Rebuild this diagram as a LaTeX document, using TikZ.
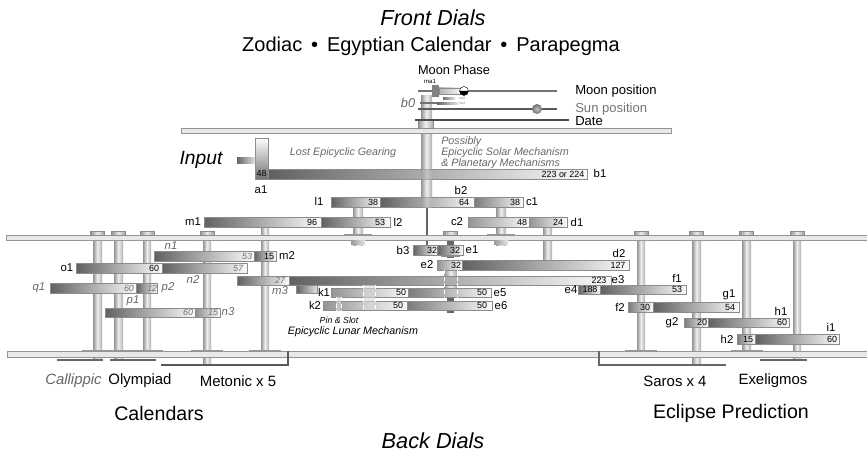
\documentclass[tikz,border=0pt]{standalone}
\usepackage{fontspec}
\setmainfont{Liberation Sans}
\newcommand{\gearbar}[8][62]{%
  \shade[left color=black!#1, right color=black!2] (#3,#5) rectangle (#4,#6);
  \draw[black!45, line width=0.4pt] (#3,#5) rectangle (#4,#6);
  \node[num] (#2) at (#7,{(#5+#6)/2}) {#8};}
\newcommand{\axle}[4]{%
  \shade[left color=black!42, right color=black!32, middle color=black!6] (#1,#3) rectangle (#2,#4);}
\newcommand{\stud}[2]{%
  \shade[left color=black!42, right color=black!38, middle color=black!8] ({#1-7},#2) rectangle ({#1+7},{#2+4});
  \draw[black!45, line width=0.3pt] ({#1-7},#2) rectangle ({#1+7},{#2+4});
  \fill[black!40] ({#1-11},{#2+9}) rectangle ({#1+11},{#2+10});}
\newcommand{\foot}[1]{%
  \fill[black!40] ({#1-16},350.2) rectangle ({#1+16},351.2);}
\tikzset{
  num/.style={font=\fontsize{6.7}{7}\selectfont, text=black, inner sep=0pt},
  numit/.style={font=\fontsize{6.7}{7}\selectfont\itshape, text=black!55, inner sep=0pt},
  lbl/.style={font=\fontsize{8.5}{10}\selectfont, inner sep=0pt},
  lblit/.style={font=\fontsize{8.5}{10}\selectfont\itshape, text=black!60, inner sep=0pt},
  dial/.style={font=\fontsize{11.2}{12}\selectfont, inner sep=0pt},
  note/.style={font=\fontsize{8.05}{8.25}\selectfont\itshape, text=black!60, inner sep=0pt},
  plate/.style={fill=black!9, draw=black!42, line width=0.5pt}
}
\begin{document}
\begin{tikzpicture}[x=0.75pt, y=-0.75pt]
    \useasboundingbox (0,0) rectangle (867,453);
    % headings
    \node[font=\fontsize{16.3}{18}\selectfont\itshape, inner sep=0pt] (front) at (433,18) {Front Dials};
    \node[font=\fontsize{15}{16}\selectfont, inner sep=0pt] (dials) at (431,46) {Zodiac \,•\, Egyptian Calendar \,•\, Parapegma};
    \node[font=\fontsize{16.3}{18}\selectfont\itshape, inner sep=0pt] (back) at (433,441) {Back Dials};
    \node[font=\fontsize{14.7}{16}\selectfont, inner sep=0pt] (calendars) at (159,413) {Calendars};
    \node[font=\fontsize{14.7}{16}\selectfont, inner sep=0pt] (eclipse) at (731,413) {Eclipse Prediction};
    \node[font=\fontsize{14.4}{18}\selectfont\itshape, inner sep=0pt] (input) at (201,160) {Input};
    % axles behind everything
    \axle{93}{102}{232}{360}
    \axle{114}{123}{232}{360}
    \axle{143}{151}{232}{357}
    \axle{203}{211}{232}{363}
    \axle{261}{269}{227}{357}
    \axle{637}{645}{232}{357}
    \axle{692}{701}{232}{363}
    \axle{742}{751}{232}{357}
    \axle{793}{801}{232}{360}
    \axle{353}{363}{207}{245}
    \axle{496}{506}{207}{245}
    \axle{543}{552}{227}{260}
    \axle{421}{432}{96}{207}
    \fill[black!60] (426,207) rectangle (428,245);
    \axle{444}{457}{270}{288}
    \fill[black!60] (447,238) rectangle (454,258);
    \fill[black!60] (447,297) rectangle (454,301);
    \fill[black!60] (447,310) rectangle (454,313);
    % plates
    \draw[plate] (181,128) rectangle (671,133);
    \draw[plate] (6,235) rectangle (867,240);
    \draw[plate] (7,351) rectangle (867,357);
    % studs on the middle plate
    \stud{97.5}{231}
    \stud{118.5}{231}
    \stud{147}{231}
    \stud{207}{231}
    \stud{641}{231}
    \stud{696.5}{231}
    \stud{746.5}{231}
    \stud{797}{231}
    \stud{450.5}{231}
    \fill[black!40] (344,235) rectangle (372,234);
    \fill[black!40] (487,235) rectangle (515,234);
    \shade[left color=black!40, right color=black!10] (351,240) rectangle (365,244);
    \shade[left color=black!40, right color=black!10] (494,240) rectangle (508,244);
    \fill[black!45] (441,256) rectangle (460,257);
    \foot{97.5} \foot{118.5} \foot{147} \foot{207} \foot{265}
    \foot{641} \foot{746.5}
    % front train
    \shade[top color=white, bottom color=black!55] (255,138) rectangle (268,179);
    \draw[black!45, line width=0.4pt] (255,138) rectangle (268,179);
    \node[num] (a48) at (261.5,173) {48};
    \gearbar{b223}{268}{587}{169}{179}{563}{223 or 224}
    \gearbar{l38}{331}{380}{197}{207}{373}{38}
    \gearbar{b64}{380}{474}{197}{207}{464}{64}
    \gearbar[52]{c38}{474}{523}{197}{207}{515}{38}
    \gearbar{m96}{204}{321}{217}{227}{312}{96}
    \gearbar{l53}{321}{390}{217}{227}{380}{53}
    \gearbar[42]{c48}{468}{529}{217}{227}{522}{48}
    \gearbar[42]{d24}{529}{567}{217}{227}{558}{24}
    \shade[left color=black!42, right color=black!32, middle color=black!6, opacity=0.35] (421,169) rectangle (432,207);
    % centre
    \gearbar{b32}{413}{437}{245}{255}{432}{32}
    \gearbar{e32a}{437}{463}{245}{255}{455}{32}
    \gearbar[42]{e32b}{437}{462}{260}{270}{456}{32}
    \gearbar{d127}{462}{629}{260}{270}{618}{127}
    % e and k gears
    \shade[left color=black!62, right color=black!12] (296,285) rectangle (317,293);
    \draw[black!45, line width=0.4pt] (296,285) rectangle (317,293);
    \gearbar[42]{k50a}{331}{408}{288}{297}{401}{50}
    \gearbar[52]{e50a}{408}{491}{288}{297}{482}{50}
    \gearbar[42]{k50b}{323}{407}{301}{310}{398}{50}
    \gearbar[52]{e50b}{407}{492}{301}{310}{482}{50}
    \gearbar{m27}{237}{289}{276}{285}{280}{}
    \node[numit] (m27t) at (280,280.5) {27};
    \gearbar{e223}{289}{611}{276}{285}{599}{223}
    % pins
    \fill[black!15, opacity=0.6] (363,285) rectangle (375,310);
    \draw[white, densely dashed, line width=0.5pt] (363,285) -- (363,310);
    \draw[white, densely dashed, line width=0.5pt] (375,285) -- (375,310);
    \fill[black!15, opacity=0.6] (336,297) rectangle (341,311);
    \draw[white, densely dashed, line width=0.5pt] (336,297) -- (336,311);
    \draw[white, densely dashed, line width=0.5pt] (341,297) -- (341,311);
    \draw[white, densely dashed, line width=0.5pt] (444,270) -- (444,297);
    \draw[white, densely dashed, line width=0.5pt] (457,270) -- (457,297);
    % eclipse train
    \gearbar{e188}{578}{600}{285}{294}{590}{188}
    \gearbar{f53}{600}{686}{285}{294}{677}{53}
    \gearbar[52]{f30}{628}{653}{302}{312}{645}{30}
    \gearbar{g54}{653}{739}{302}{312}{730}{54}
    \gearbar[52]{g20}{684}{708}{318}{327}{702}{20}
    \gearbar{h60}{708}{789}{318}{327}{782}{60}
    \gearbar[52]{h15}{737}{755}{334}{344}{748}{15}
    \gearbar{i60}{755}{839}{334}{344}{832}{60}
    % calendar train
    \gearbar{n53}{154}{254}{251}{261}{247}{}
    \node[numit] (n53t) at (247,256) {53};
    \gearbar{m15}{254}{276}{251}{261}{269}{15}
    \gearbar{o60}{76}{162}{263}{273}{154}{60}
    \gearbar{n57}{162}{247}{263}{273}{238}{}
    \node[numit] (n57t) at (238,268) {57};
    \gearbar{q60}{50}{136}{283}{293}{129}{}
    \node[numit] (q60t) at (129,288) {60};
    \gearbar{p12}{136}{157}{283}{293}{152}{}
    \node[numit] (p12t) at (152,288) {12};
    \gearbar{p60}{105}{195}{308}{317}{188}{}
    \node[numit] (p60t) at (188,312.5) {60};
    \gearbar[45]{n15}{195}{220}{308}{317}{213}{}
    \node[numit] (n15t) at (213,312.5) {15};
    % input shaft
    \shade[left color=black!60, right color=black!12] (237,157) rectangle (255,163);
    % dial bars
    \draw[black!60, line width=1.3pt] (57,360) -- (103,360);
    \draw[black!60, line width=1.3pt] (110,360) -- (156,360);
    \draw[black!65, line width=1.8pt] (161,365) -- (288,365) -- (288,351);
    \draw[black!60, line width=1.8pt] (726,365) -- (599,365) -- (599,351);
    \draw[black!60, line width=1.3pt] (760,360) -- (807,360);
    % moon and sun output
    \shade[left color=black!42, right color=black!32, middle color=black!6] (418,120) rectangle (433,128);
    \draw[black!45, line width=0.3pt] (418,120) rectangle (433,128);
    \draw[black!55, line width=1.1pt] (418,91) -- (557,91);
    \draw[black!65, line width=1.1pt] (418,109) -- (557,109);
    \draw[black!70, line width=1.4pt] (415,120) -- (569,120);
    \fill[black!50] (432,85) rectangle (439,97);
    \shade[left color=black!30, right color=black!3] (439,88) rectangle (460,94);
    \draw[black!45, line width=0.3pt] (439,88) rectangle (460,94);
    \shade[left color=black!55, right color=black!10] (443,97) rectangle (455,99);
    \fill[black!55] (420,102) rectangle (437,104);
    \shade[left color=black!60, right color=black!10] (437,102) rectangle (458,104);
    \fill[white, draw=black, line width=0.3pt] (464,91) circle (4.5);
    \fill[black] (459.5,91) arc[start angle=180, end angle=360, x radius=4.5, y radius=-4.5] -- cycle;
    \shade[inner color=black!25, outer color=black!55] (537,109) circle (5);
    % labels
    \node[font=\fontsize{9.6}{10}\selectfont, inner sep=0pt] (moonphase) at (454,70) {Moon Phase};
    \node[font=\fontsize{4.5}{5}\selectfont, inner sep=0pt] (ma1) at (430,81) {ma1};
    \node[font=\fontsize{2.5}{3}\selectfont, text=black!50, inner sep=0pt] (ma2) at (462,98) {ma2};
    \node[font=\fontsize{2.5}{3}\selectfont, text=black!50, inner sep=0pt] (ma3) at (462,103) {ma3};
    \node[font=\fontsize{9.6}{10}\selectfont\itshape, text=black!60, inner sep=0pt] (b0) at (408,103) {b0};
    \node[dial, font=\fontsize{9.8}{10}\selectfont, anchor=west] (moonpos) at (575,91) {Moon position};
    \node[dial, font=\fontsize{9.8}{10}\selectfont, anchor=west, text=black!55] (sunpos) at (575,109) {Sun position};
    \node[dial, font=\fontsize{9.8}{10}\selectfont, anchor=west] (date) at (575,121) {Date};
    \node[note] (lost) at (343,153) {Lost Epicyclic Gearing};
    \node[note, anchor=west, align=left] (possibly) at (441,153) {Possibly\\Epicyclic Solar Mechanism\\\& Planetary Mechanisms};
    \node[note, font=\fontsize{6.6}{8}\selectfont\itshape, text=black] (pinslot) at (339,320) {Pin \& Slot};
    \node[note, text=black] (lunar) at (353,332) {Epicyclic Lunar Mechanism};
    \node[lbl] (la1) at (261,190) {a1};
    \node[lbl] (lb1) at (600,173.5) {b1};
    \node[lbl] (ll1) at (319,201.5) {l1};
    \node[lbl] (lb2) at (461,190) {b2};
    \node[lbl] (lc1) at (532,202) {c1};
    \node[lbl] (lm1) at (193,222) {m1};
    \node[lbl] (ll2) at (398,222) {l2};
    \node[lbl] (lc2) at (457,222) {c2};
    \node[lbl] (ld1) at (577,222) {d1};
    \node[lbl] (lb3) at (403,250) {b3};
    \node[lbl] (le1) at (472,250) {e1};
    \node[lbl] (le2) at (427,265) {e2};
    \node[lbl] (ld2) at (619,253) {d2};
    \node[lbl] (le3) at (618,280) {e3};
    \node[lbl] (le4) at (571,290) {e4};
    \node[lbl] (lk1) at (324,292.5) {k1};
    \node[lbl] (le5) at (500,292.5) {e5};
    \node[lbl] (lk2) at (315,305.5) {k2};
    \node[lbl] (le6) at (501,305.5) {e6};
    \node[lbl] (lf1) at (677,278) {f1};
    \node[lbl] (lf2) at (620,307) {f2};
    \node[lbl] (lg1) at (729,295) {g1};
    \node[lbl] (lg2) at (672,323) {g2};
    \node[lbl] (lh1) at (781,311) {h1};
    \node[lbl] (lh2) at (727,339) {h2};
    \node[lbl] (li1) at (831,327) {i1};
    \node[lbl] (lm2) at (287,256) {m2};
    \node[lbl] (lo1) at (67,268) {o1};
    \node[lblit] (ln1) at (171,246) {n1};
    \node[lblit] (ln2) at (193,280) {n2};
    \node[lblit] (lm3) at (280,291) {m3};
    \node[lblit] (lq1) at (39,288) {q1};
    \node[lblit] (lp2) at (168,288) {p2};
    \node[lblit] (lp1) at (133,301) {p1};
    \node[lblit] (ln3) at (228,312) {n3};
    % dial names
    \node[dial, font=\fontsize{11.2}{12}\selectfont\itshape, text=black!60] (callippic) at (73.5,381) {Callippic};
    \node[dial] (olympiad) at (140,381) {Olympiad};
    \node[dial] (metonic) at (238,381) {Metonic x 5};
    \node[dial] (saros) at (675,381) {Saros x 4};
    \node[dial] (exeligmos) at (773,381) {Exeligmos};
  \end{tikzpicture}
\end{document}
